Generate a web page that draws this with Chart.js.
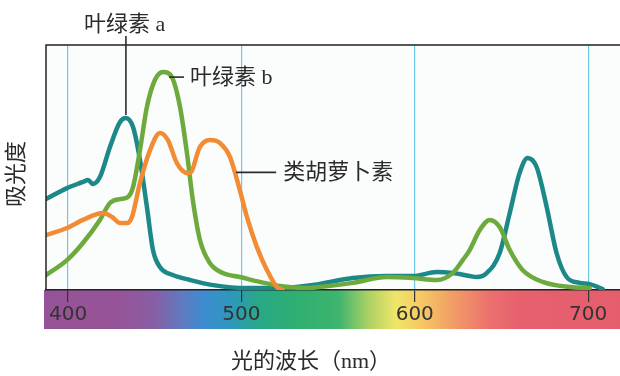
<!DOCTYPE html>
<html>
<head>
<meta charset="utf-8">
<script src="https://cdn.jsdelivr.net/npm/chart.js@4/dist/chart.umd.min.js"></script>
<style>
  html, body { margin: 0; padding: 0; background: #ffffff; }
  #wrap { width: 620px; height: 376px; position: relative; }
</style>
</head>
<body>
<div id="wrap"><canvas id="c" width="620" height="376"></canvas></div>
<script>
// Absorption spectra of photosynthetic pigments (relative absorbance, 0–100)
const wavelengthTicks = [400, 500, 600, 700];

const chlAWavelength = [387.3, 399.4, 408.6, 411.5, 414.4, 418.4, 424.2, 430.0, 433.4, 437.5, 441.5, 445.5, 449.0, 453.0, 460.5, 470.3, 483.6, 503.2, 522.2, 541.2, 551.0, 564.3, 583.9, 598.8, 612.7, 621.9, 631.7, 635.7, 641.5, 649.0, 654.8, 660.5, 665.1, 670.3, 676.1, 681.8, 687.6, 695.1, 700.9, 708.4];
const chlAAbsorb     = [37.1, 41.6, 44.1, 44.9, 43.3, 46.1, 58.4, 68.6, 70.2, 66.5, 53.1, 33.9, 16.3, 9.4, 6.1, 4.1, 2.0, 0.8, 0.8, 2.0, 3.3, 4.9, 5.7, 5.7, 7.3, 6.9, 5.7, 5.3, 6.9, 15.1, 31.4, 47.8, 53.9, 50.2, 33.9, 15.1, 5.3, 2.9, 2.4, 0.4];

const chlBWavelength = [387.3, 399.4, 408.6, 418.4, 424.2, 430.0, 434.6, 437.5, 441.5, 445.5, 450.1, 454.8, 459.9, 464.6, 468.6, 472.0, 476.1, 481.8, 489.3, 499.1, 510.7, 522.2, 537.8, 545.2, 564.3, 583.9, 598.8, 612.7, 621.9, 627.7, 631.7, 637.5, 643.2, 649.0, 654.8, 662.2, 673.8, 689.3, 700.9];
const chlBAbsorb     = [6.1, 12.2, 19.2, 28.6, 35.5, 37.1, 38.0, 42.0, 57.1, 74.7, 85.7, 89.0, 86.9, 74.7, 55.9, 36.7, 20.4, 11.0, 6.9, 5.3, 3.3, 1.6, 0.8, 1.2, 2.9, 5.3, 4.9, 4.1, 6.9, 12.2, 16.3, 24.5, 28.6, 25.7, 16.3, 8.2, 3.3, 1.2, 0.8];

const carWavelength  = [387.3, 399.4, 408.6, 420.2, 425.4, 430.0, 434.0, 436.9, 441.5, 447.3, 453.0, 457.6, 462.8, 468.6, 470.3, 476.1, 481.8, 487.6, 493.4, 499.1, 503.2, 508.9, 514.7, 520.5, 523.9];
const carAbsorb      = [22.4, 25.3, 28.6, 31.4, 29.8, 27.3, 27.3, 29.8, 43.7, 57.1, 64.1, 61.2, 51.8, 47.8, 47.8, 58.4, 61.2, 60.0, 54.3, 40.8, 29.8, 17.6, 8.2, 1.2, 0.0];

const labels = {
  chlA: '叶绿素 a',
  chlB: '叶绿素 b',
  car: '类胡萝卜素',
  xTitle: '光的波长（nm）',
  yTitle: '吸光度'
};

const toPoints = (xs, ys) => xs.map((x, i) => ({ x: x, y: ys[i] }));

// Visible-light colour band under the axis, stops given in nm
const spectrumStops = [
  [387, 'rgb(150,82,150)'],
  [430, 'rgb(150,84,152)'],
  [450, 'rgb(135,95,165)'],
  [466, 'rgb(95,122,192)'],
  [478, 'rgb(62,140,208)'],
  [494, 'rgb(45,152,188)'],
  [510, 'rgb(40,168,135)'],
  [534, 'rgb(48,175,112)'],
  [556, 'rgb(62,180,110)'],
  [574, 'rgb(175,210,100)'],
  [589, 'rgb(240,230,105)'],
  [603, 'rgb(246,202,100)'],
  [620, 'rgb(242,162,102)'],
  [643, 'rgb(236,112,110)'],
  [661, 'rgb(230,96,110)'],
  [719, 'rgb(230,94,110)']
];

const TEXT = '#2b2b2b';
const CJK = '"Liberation Serif", "Noto Sans CJK SC", serif';

const decor = {
  id: 'decor',
  beforeDraw(chart) {
    const { ctx, chartArea: a, scales: { x } } = chart;
    ctx.save();
    ctx.fillStyle = '#fbfcfc';
    ctx.fillRect(a.left, a.top, a.right - a.left, a.bottom - a.top);
    // spectrum band
    const x0 = a.left - 2, x1 = chart.width;
    const g = ctx.createLinearGradient(x0, 0, x1, 0);
    spectrumStops.forEach(([nm, col]) => {
      const t = (x.getPixelForValue(nm) - x0) / (x1 - x0);
      g.addColorStop(Math.min(1, Math.max(0, t)), col);
    });
    ctx.fillStyle = g;
    ctx.fillRect(x0, a.bottom, x1 - x0, 39);
    ctx.restore();
  },
  afterDraw(chart) {
    const { ctx, chartArea: a, scales: { x, y } } = chart;
    ctx.save();
    // frame: top and left edges
    ctx.strokeStyle = '#222';
    ctx.lineWidth = 1.5;
    ctx.beginPath();
    ctx.moveTo(a.left, a.bottom);
    ctx.lineTo(a.left, a.top);
    ctx.lineTo(chart.width, a.top);
    ctx.stroke();

    ctx.fillStyle = TEXT;
    ctx.strokeStyle = TEXT;
    ctx.lineWidth = 1.6;
    ctx.font = '22px ' + CJK;
    ctx.textBaseline = 'middle';
    ctx.textAlign = 'left';

    // chlorophyll a: vertical leader from the blue peak
    const pa = x.getPixelForValue(433.4);
    ctx.beginPath();
    ctx.moveTo(pa, 36);
    ctx.lineTo(pa, y.getPixelForValue(70.2) - 3);
    ctx.stroke();
    ctx.fillText(labels.chlA, 84, 25);

    // chlorophyll b: short horizontal leader
    const pb = x.getPixelForValue(454.8);
    const yb = y.getPixelForValue(86.9);
    ctx.beginPath();
    ctx.moveTo(pb + 6, yb);
    ctx.lineTo(pb + 21, yb);
    ctx.stroke();
    ctx.fillText(labels.chlB, pb + 27, yb + 1);

    // carotenoids
    const pc = x.getPixelForValue(497);
    const yc = y.getPixelForValue(48);
    ctx.beginPath();
    ctx.moveTo(pc, yc);
    ctx.lineTo(pc + 40, yc);
    ctx.stroke();
    ctx.fillText(labels.car, pc + 47, yc + 1);

    // axis titles
    ctx.textAlign = 'center';
    ctx.fillText(labels.xTitle, 311, 362);
    ctx.translate(17, 174);
    ctx.rotate(-Math.PI / 2);
    ctx.fillText(labels.yTitle, 0, 0);
    ctx.restore();
  }
};

const lineStyle = (color, order) => ({
  borderColor: color,
  backgroundColor: color,
  borderWidth: 4.5,
  pointRadius: 0,
  fill: false,
  cubicInterpolationMode: 'monotone',
  borderCapStyle: 'round',
  borderJoinStyle: 'round',
  order: order
});

new Chart(document.getElementById('c'), {
  type: 'line',
  data: {
    datasets: [
      Object.assign({ label: labels.chlA, data: toPoints(chlAWavelength, chlAAbsorb) }, lineStyle('rgb(28,136,136)', 3)),
      Object.assign({ label: labels.chlB, data: toPoints(chlBWavelength, chlBAbsorb) }, lineStyle('rgb(108,170,62)', 2)),
      Object.assign({ label: labels.car, data: toPoints(carWavelength, carAbsorb) }, lineStyle('rgb(242,140,52)', 1))
    ]
  },
  options: {
    responsive: false,
    animation: false,
    events: [],
    layout: { autoPadding: false, padding: { left: 46, right: 0, top: 45, bottom: 46 } },
    plugins: { legend: { display: false }, tooltip: { enabled: false } },
    scales: {
      x: {
        type: 'linear',
        min: 387.3,
        max: 718.4,
        afterBuildTicks(scale) { scale.ticks = wavelengthTicks.map(v => ({ value: v })); },
        afterFit(scale) { scale.height = 40; },
        grid: {
          color: '#6ccae8',
          lineWidth: 1.2,
          drawOnChartArea: true,
          drawTicks: true,
          tickLength: 12,
          tickColor: '#333',
          tickWidth: 1.2
        },
        border: { display: true, color: '#222', width: 1.5 },
        ticks: {
          color: '#333',
          padding: 1,
          maxRotation: 0,
          autoSkip: false,
          font: { family: '"DejaVu Sans"', size: 20, weight: 'normal' },
          callback: v => String(v)
        }
      },
      y: {
        display: false,
        min: 0,
        max: 100
      }
    }
  },
  plugins: [decor]
});
</script>
</body>
</html>
